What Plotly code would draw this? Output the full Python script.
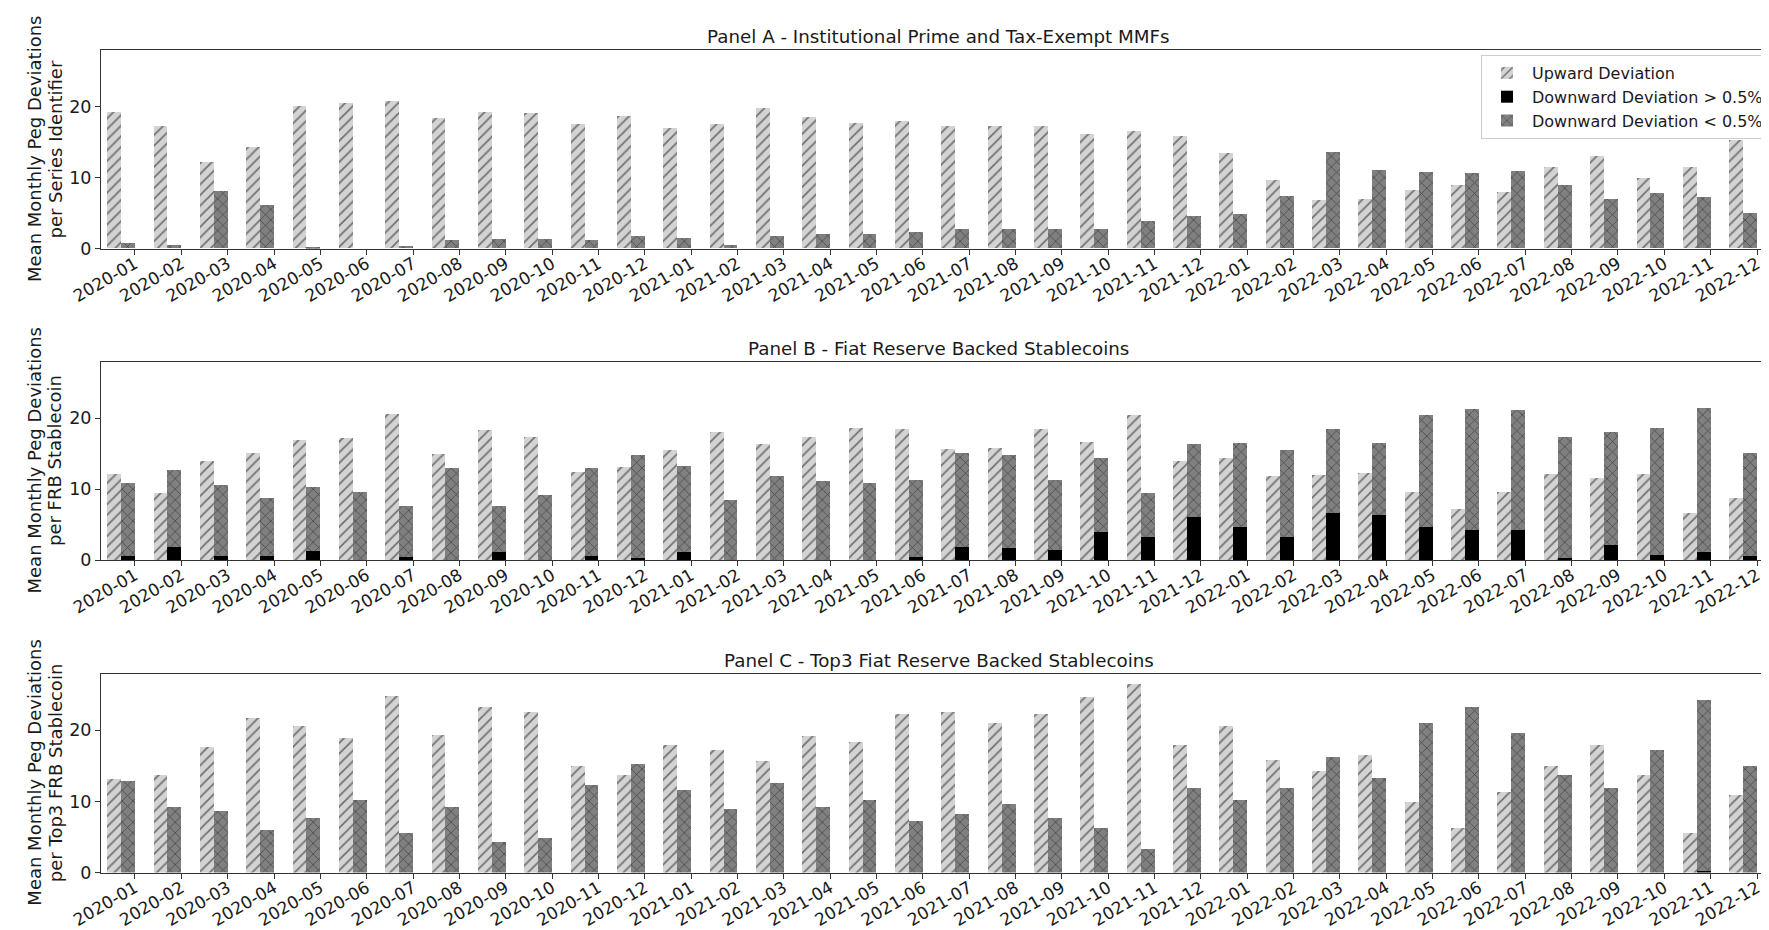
import plotly.graph_objects as go

months = [f"{y}-{m:02d}" for y in (2020, 2021, 2022) for m in range(1, 13)]

# Panel A - Institutional Prime and Tax-Exempt MMFs
a_up = [19.2, 17.3, 12.2, 14.3, 20.1, 20.5, 20.8, 18.35, 19.25, 19.1, 17.5, 18.7,
        17.0, 17.5, 19.7, 18.5, 17.6, 17.9, 17.2, 17.2, 17.2, 16.1, 16.5, 15.8,
        13.5, 9.6, 6.85, 7.0, 8.2, 8.95, 7.9, 11.4, 13.0, 9.85, 11.5, 15.3]
a_down_big = [0.0] * 36
a_down_small = [0.75, 0.5, 8.1, 6.1, 0.2, 0.0, 0.3, 1.2, 1.35, 1.35, 1.2, 1.7,
                1.45, 0.5, 1.7, 2.0, 2.0, 2.3, 2.7, 2.7, 2.7, 2.7, 3.9, 4.5,
                4.85, 7.35, 13.6, 11.1, 10.75, 10.55, 10.95, 8.9, 6.9, 7.75, 7.25, 5.0]

# Panel B - Fiat Reserve Backed Stablecoins
b_up = [12.15, 9.5, 14.0, 15.1, 17.0, 17.2, 20.65, 15.0, 18.4, 17.3, 12.5, 13.15,
        15.5, 18.0, 16.35, 17.3, 18.6, 18.55, 15.7, 15.8, 18.55, 16.6, 20.5, 14.0,
        14.4, 11.85, 12.0, 12.3, 9.65, 7.2, 9.65, 12.2, 11.65, 12.2, 6.7, 8.8]
b_down_big = [0.65, 1.85, 0.65, 0.65, 1.3, 0.0, 0.4, 0.0, 1.2, 0.0, 0.55, 0.3,
              1.2, 0.0, 0.0, 0.0, 0.0, 0.5, 1.85, 1.7, 1.5, 4.0, 3.3, 6.15,
              4.7, 3.2, 6.7, 6.3, 4.7, 4.3, 4.3, 0.3, 2.15, 0.8, 1.2, 0.65]
b_down_total = [10.85, 12.65, 10.65, 8.8, 10.3, 9.6, 7.6, 13.0, 7.6, 9.15, 13.0, 14.85,
                13.3, 8.5, 11.85, 11.2, 10.95, 11.3, 15.1, 14.85, 11.3, 14.35, 9.5, 16.35,
                16.5, 15.5, 18.55, 16.5, 20.5, 21.3, 21.2, 17.3, 18.0, 18.65, 21.5, 15.1]
b_down_small = [round(t - k, 2) for t, k in zip(b_down_total, b_down_big)]

# Panel C - Top3 Fiat Reserve Backed Stablecoins
c_up = [13.25, 13.7, 17.65, 21.7, 20.6, 18.95, 24.9, 19.3, 23.3, 22.6, 15.05, 13.7,
        17.95, 17.25, 15.7, 19.25, 18.35, 22.3, 22.6, 21.0, 22.3, 24.7, 26.55, 17.95,
        20.6, 15.9, 14.35, 16.6, 10.0, 6.3, 11.3, 15.0, 17.95, 13.7, 5.6, 10.95]
c_down_big = [0.0] * 34 + [0.2, 0.0]
c_down_total = [12.95, 9.3, 8.65, 6.05, 7.65, 10.3, 5.6, 9.3, 4.3, 4.95, 12.3, 15.25,
                11.6, 8.95, 12.65, 9.3, 10.3, 7.35, 8.3, 9.65, 7.65, 6.3, 3.3, 11.95,
                10.3, 11.95, 16.3, 13.3, 21.0, 23.3, 19.6, 13.7, 11.95, 17.25, 24.3, 15.0]
c_down_small = [round(t - k, 2) for t, k in zip(c_down_total, c_down_big)]

panels = [
    ("Panel A - Institutional Prime and Tax-Exempt MMFs",
     ("Mean Monthly Peg Deviations", "per Series Identifier"), a_up, a_down_big, a_down_small),
    ("Panel B - Fiat Reserve Backed Stablecoins",
     ("Mean Monthly Peg Deviations", "per FRB Stablecoin"), b_up, b_down_big, b_down_small),
    ("Panel C - Top3 Fiat Reserve Backed Stablecoins",
     ("Mean Monthly Peg Deviations", "per Top3 FRB Stablecoin"), c_up, c_down_big, c_down_small),
]

W, H = 1769, 930
ML, MR, MT, MB = 93, 1, 42, 65
plot_w = W - ML - MR
plot_h = H - MT - MB
extents = [(42.3, 240.7), (353.9, 552.1), (665.7, 864.6)]
domains = [[(H - MB - b) / plot_h, min(1.0, (H - MB - t) / plot_h)] for t, b in extents]

bw = 0.3
idx = list(range(len(months)))
x_up = [i - 1.5 * bw for i in idx]
x_dn = [i - 0.5 * bw for i in idx]

font = "DejaVu Sans, Liberation Sans, sans-serif"
up_pattern = dict(shape="/", fgcolor="#111111", bgcolor="#d3d3d3", size=7.5, solidity=0.24)
sm_pattern = dict(shape="x", fgcolor="#111111", bgcolor="#808080", size=7.5, solidity=0.2)

fig = go.Figure()
annotations = []
for k, (title, ylab, up, big, small) in enumerate(panels):
    n = "" if k == 0 else str(k + 1)
    xa, ya = "x" + n, "y" + n
    show = k == 0
    fig.add_trace(go.Bar(x=x_up, y=up, width=bw, xaxis=xa, yaxis=ya,
                         name="Upward Deviation", legendgroup="g", showlegend=show,
                         marker=dict(color="#d3d3d3", pattern=up_pattern, line=dict(width=0))))
    fig.add_trace(go.Bar(x=x_dn, y=big, width=bw, xaxis=xa, yaxis=ya,
                         name="Downward Deviation > 0.5%", legendgroup="g", showlegend=show,
                         marker=dict(color="black", line=dict(width=0))))
    fig.add_trace(go.Bar(x=x_dn, y=small, base=big, width=bw, xaxis=xa, yaxis=ya,
                         name="Downward Deviation < 0.5%", legendgroup="g", showlegend=show,
                         marker=dict(color="#808080", pattern=sm_pattern, line=dict(width=0))))
    axis_common = dict(showline=True, linecolor="#333", linewidth=1, mirror=True,
                       ticks="outside", ticklen=5, tickcolor="#333", showgrid=False,
                       zeroline=False, tickfont=dict(family=font, size=17.5, color="#1a1a1a"))
    fig.update_layout(**{
        ("xaxis" + n): dict(axis_common, domain=[0, 1], anchor=ya, range=[-0.733, 35.41],
                            tickmode="array", tickvals=idx, ticktext=months, tickangle=-30,
                            tickfont=dict(family=font, size=17, color="#1a1a1a"),
                            ticklabelstandoff=-7),
        ("yaxis" + n): dict(axis_common, domain=domains[k], anchor=xa, range=[0, 27.93],
                            tickmode="array", tickvals=[0, 10, 20]),
    })
    annotations.append(dict(text=title, xref="paper", yref="paper", x=0.5, y=domains[k][1],
                            xanchor="center", yanchor="bottom", yshift=1, showarrow=False,
                            font=dict(family=font, size=18.3, color="#1a1a1a")))
    for line, px in zip(ylab, (26.5, 47)):
        annotations.append(dict(text=line, xref="paper", yref="paper",
                                x=(px - ML) / plot_w, y=sum(domains[k]) / 2,
                                xanchor="center", yanchor="middle", textangle=-90,
                                showarrow=False,
                                font=dict(family=font, size=18, color="#1a1a1a")))

fig.update_layout(
    width=W, height=H, barmode="overlay", bargap=0,
    margin=dict(l=ML, r=MR, t=MT, b=MB, pad=0),
    paper_bgcolor="white", plot_bgcolor="white",
    annotations=annotations,
    legend=dict(x=(1761 - ML) / plot_w, y=(H - MB - 47) / plot_h,
                xanchor="right", yanchor="top",
                bgcolor="rgba(255,255,255,0.85)", bordercolor="#cccccc", borderwidth=1,
                font=dict(family=font, size=16, color="#1a1a1a"), tracegroupgap=0,
                itemwidth=40),
    font=dict(family=font, color="#1a1a1a"),
)

fig.write_html("out.html")
